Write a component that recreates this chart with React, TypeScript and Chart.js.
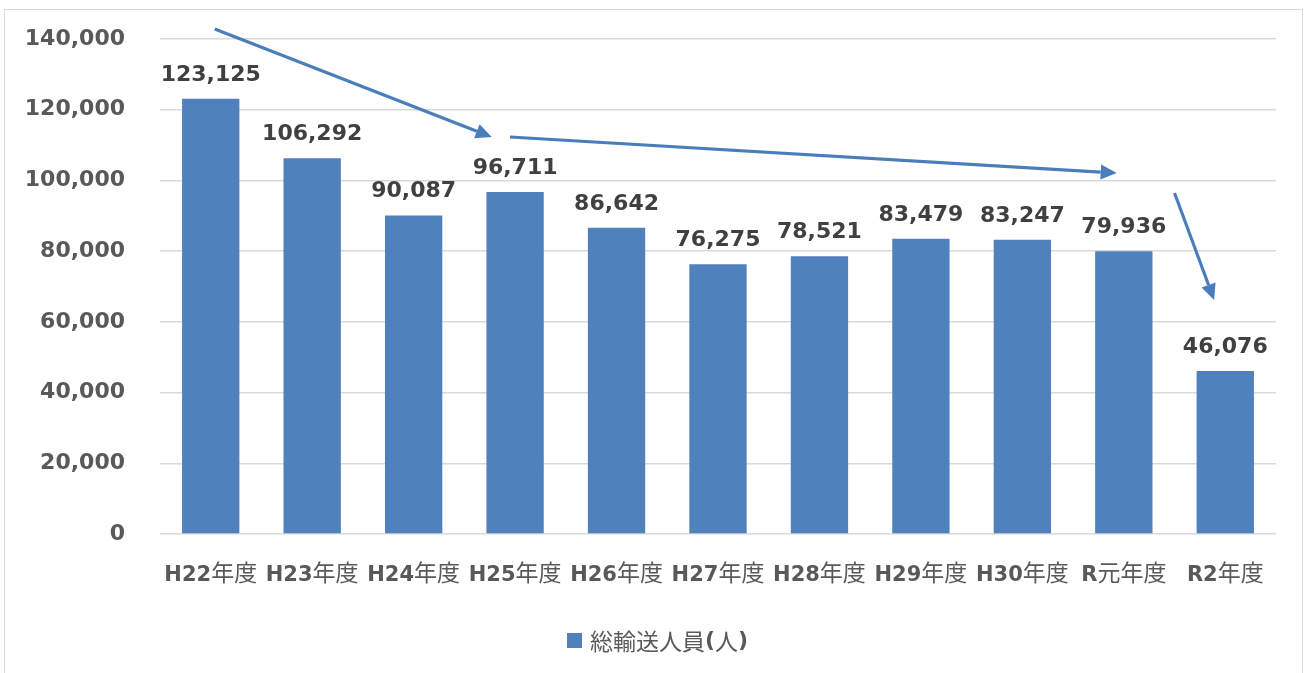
import React, { useEffect, useRef } from "react";
import { Chart, registerables } from "chart.js";

Chart.register(...registerables);

const categories = ["H22年度", "H23年度", "H24年度", "H25年度", "H26年度", "H27年度", "H28年度", "H29年度", "H30年度", "R元年度", "R2年度"];
const passengers = [123125, 106292, 90087, 96711, 86642, 76275, 78521, 83479, 83247, 79936, 46076];
const seriesName = "総輸送人員(人)";
const yMin = 0;
const yMax = 140000;
const yStep = 20000;

// trend arrows in data units: start/end index and value
const arrowStartX = [0.04, 2.95, 9.5];
const arrowStartY = [142830, 112280, 96440];
const arrowEndX = [2.77, 8.93, 9.89];
const arrowEndY = [112280, 102100, 66180];

const BAR = "#4F81BD";
const ARROW = "#4A7EBB";
const GRID = "#D9D9D9";
const TEXT = "#595959";
const LABEL = "#404040";
const LATIN = '"DejaVu Sans", sans-serif';
const CJK = '"Noto Sans CJK JP", sans-serif';

function drawMixed(ctx: CanvasRenderingContext2D, parts: { t: string; f: string }[], cx: number, y: number, align: "center" | "left") {
  let total = 0;
  const widths = parts.map((p) => {
    ctx.font = p.f;
    const w = ctx.measureText(p.t).width;
    total += w;
    return w;
  });
  let x = align === "center" ? cx - total / 2 : cx;
  parts.forEach((p, i) => {
    ctx.font = p.f;
    ctx.fillText(p.t, x, y);
    x += widths[i];
  });
}

const customPlugin = {
  id: "custom",
  afterDatasetsDraw(chart: any) {
    const ctx = chart.ctx as CanvasRenderingContext2D;
    const meta = chart.getDatasetMeta(0);
    ctx.save();
    ctx.fillStyle = LABEL;
    ctx.font = `bold 22px ${LATIN}`;
    ctx.textAlign = "center";
    ctx.textBaseline = "alphabetic";
    meta.data.forEach((bar: any, i: number) => {
      ctx.fillText(passengers[i].toLocaleString("en-US"), bar.x, bar.y - 18);
    });
    ctx.fillStyle = TEXT;
    ctx.textAlign = "left";
    meta.data.forEach((bar: any, i: number) => {
      const lab = categories[i];
      const m = lab.match(/^([A-Z0-9]+)(.*)$/);
      const parts = m
        ? [
            { t: m[1], f: `bold 21px ${LATIN}` },
            { t: m[2], f: `23px ${CJK}` },
          ]
        : [{ t: lab, f: `23px ${CJK}` }];
      drawMixed(ctx, parts, bar.x, 581, "center");
    });
    ctx.fillStyle = BAR;
    ctx.fillRect(567, 633, 15, 15);
    ctx.fillStyle = TEXT;
    ctx.textBaseline = "middle";
    const nameMain = seriesName.replace(/\(.*\)$/, "");
    const unit = seriesName.match(/\((.*)\)$/);
    drawMixed(
      ctx,
      [
        { t: nameMain, f: `23px ${CJK}` },
        { t: "(", f: `bold 22px ${LATIN}` },
        { t: unit ? unit[1] : "", f: `23px ${CJK}` },
        { t: ")", f: `bold 22px ${LATIN}` },
      ],
      590,
      641,
      "left"
    );
    ctx.restore();
  },
  afterDraw(chart: any) {
    const ctx = chart.ctx as CanvasRenderingContext2D;
    const xs = chart.scales.x;
    const ys = chart.scales.y;
    ctx.save();
    ctx.strokeStyle = ARROW;
    ctx.fillStyle = ARROW;
    ctx.lineWidth = 3.2;
    ctx.lineCap = "butt";
    for (let i = 0; i < arrowStartX.length; i++) {
      const x0 = xs.getPixelForValue(arrowStartX[i]);
      const y0 = ys.getPixelForValue(arrowStartY[i]);
      const x1 = xs.getPixelForValue(arrowEndX[i]);
      const y1 = ys.getPixelForValue(arrowEndY[i]);
      const ang = Math.atan2(y1 - y0, x1 - x0);
      const headLen = 16;
      const headW = 7.5;
      const bx = x1 - headLen * Math.cos(ang);
      const by = y1 - headLen * Math.sin(ang);
      ctx.beginPath();
      ctx.moveTo(x0, y0);
      ctx.lineTo(bx, by);
      ctx.stroke();
      ctx.beginPath();
      ctx.moveTo(x1, y1);
      ctx.lineTo(bx + headW * Math.sin(ang), by - headW * Math.cos(ang));
      ctx.lineTo(bx - headW * Math.sin(ang), by + headW * Math.cos(ang));
      ctx.closePath();
      ctx.fill();
    }
    ctx.restore();
  },
};

export default function App() {
  const ref = useRef<HTMLCanvasElement | null>(null);
  useEffect(() => {
    document.body.style.margin = "0";
    if (!ref.current) return;
    const chart = new Chart(ref.current, {
      type: "bar",
      data: {
        labels: categories,
        datasets: [
          {
            label: seriesName,
            data: passengers,
            backgroundColor: BAR,
            barPercentage: 0.565,
            categoryPercentage: 1,
          },
        ],
      },
      options: {
        animation: false,
        responsive: false,
        layout: { padding: { top: 39, right: 31, bottom: 139, left: 0 } },
        plugins: { legend: { display: false }, tooltip: { enabled: false } },
        scales: {
          x: {
            display: false,
          },
          y: {
            min: yMin,
            max: yMax,
            afterFit: (s: any) => {
              s.width = 160;
              s.paddingTop = 0;
              s.paddingBottom = 0;
            },
            ticks: {
              stepSize: yStep,
              padding: 35,
              color: TEXT,
              font: { family: LATIN, size: 22, weight: "bold" },
              callback: (v: any) => Number(v).toLocaleString("en-US"),
            },
            grid: { color: GRID, lineWidth: 1.5, drawTicks: false },
            border: { display: false },
          },
        },
      },
      plugins: [customPlugin],
    });
    return () => chart.destroy();
  }, []);
  return (
    <div style={{ position: "relative", width: 1307, height: 673, overflow: "hidden", background: "#fff" }}>
      <div
        style={{
          position: "absolute",
          left: 4,
          top: 9,
          width: 1299,
          height: 720,
          border: `1px solid ${GRID}`,
          boxSizing: "border-box",
        }}
      />
      <canvas ref={ref} width={1307} height={673} style={{ position: "absolute", left: 0, top: 0 }} />
    </div>
  );
}
